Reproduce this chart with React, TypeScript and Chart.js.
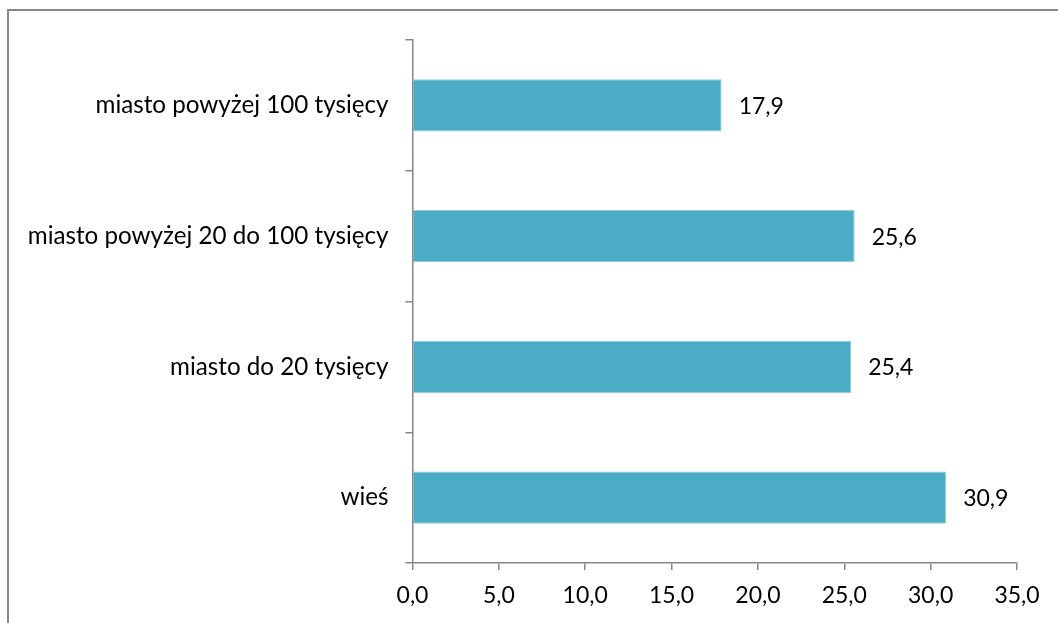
import React, { useEffect, useRef } from "react";
import { Chart, registerables } from "chart.js";

Chart.register(...registerables);

const categories: string[] = [
  "miasto powyżej 100 tysięcy",
  "miasto powyżej 20 do 100 tysięcy",
  "miasto do 20 tysięcy",
  "wieś",
];
const values: number[] = [17.9, 25.6, 25.4, 30.9];
const axisMin = 0;
const axisMax = 35;
const axisStep = 5;

const BAR_COLOR = "#4BACC6";
const AXIS_COLOR = "#868686";
const FONT = "Lato";

const fmt = (v: number) => v.toFixed(1).replace(".", ",");

const dataLabelPlugin = {
  id: "dataLabels",
  afterDatasetsDraw(chart: any) {
    const ctx = chart.ctx;
    const meta = chart.getDatasetMeta(0);
    ctx.save();
    ctx.font = `23px ${FONT}`;
    ctx.fillStyle = "#000000";
    ctx.textAlign = "left";
    ctx.textBaseline = "middle";
    meta.data.forEach((bar: any, i: number) => {
      const v = chart.data.datasets[0].data[i] as number;
      ctx.fillText(fmt(v), bar.x + 17, bar.y + 1);
    });
    ctx.restore();
  },
};

export default function App() {
  const canvasRef = useRef<HTMLCanvasElement | null>(null);

  useEffect(() => {
    let chart: Chart | null = null;
    let cancelled = false;
    const make = () => {
      if (cancelled || !canvasRef.current) return;
      chart = new Chart(canvasRef.current, {
        type: "bar",
        data: {
          labels: categories,
          datasets: [
            {
              data: values,
              backgroundColor: BAR_COLOR,
              borderColor: "#8ccfdf",
              borderWidth: 1,
              categoryPercentage: 0.4,
              barPercentage: 1,
            },
          ],
        },
        options: {
          indexAxis: "y",
          animation: false,
          responsive: false,
          maintainAspectRatio: false,
          layout: { padding: { top: 40, right: 41, left: 0, bottom: 0 } },
          plugins: {
            legend: { display: false },
            tooltip: { enabled: false },
            title: { display: false },
          },
          scales: {
            x: {
              type: "linear",
              min: axisMin,
              max: axisMax,
              ticks: {
                stepSize: axisStep,
                color: "#000000",
                font: { family: FONT, size: 23 },
                padding: 12,
                callback: (v: any) => fmt(Number(v)),
              },
              grid: {
                drawOnChartArea: false,
                drawTicks: true,
                tickLength: 7,
                color: AXIS_COLOR,
                lineWidth: 1.5,
              },
              border: { display: true, color: AXIS_COLOR, width: 1.5 },
              afterFit: (scale: any) => {
                scale.height = 60;
              },
            },
            y: {
              type: "category",
              offset: true,
              ticks: {
                color: "#000000",
                font: { family: FONT, size: 24.2 },
                padding: 17,
              },
              grid: {
                offset: true,
                drawOnChartArea: false,
                drawTicks: true,
                tickLength: 7,
                color: AXIS_COLOR,
                lineWidth: 1.5,
              },
              border: { display: true, color: AXIS_COLOR, width: 1.5 },
              afterFit: (scale: any) => {
                scale.width = 412.5;
              },
            },
          },
        },
        plugins: [dataLabelPlugin],
      });
    };
    const fontsApi: any = (document as any).fonts;
    if (fontsApi && fontsApi.load) {
      fontsApi.load(`23px ${FONT}`).then(make, make);
    } else {
      make();
    }
    return () => {
      cancelled = true;
      if (chart) chart.destroy();
    };
  }, []);

  return (
    <div
      style={{
        position: "fixed",
        left: 0,
        top: 0,
        width: 1058,
        height: 623,
        overflow: "hidden",
        background: "#ffffff",
      }}
    >
      <div
        style={{
          position: "absolute",
          left: 7,
          top: 9,
          width: 1200,
          height: 800,
          border: `2px solid ${AXIS_COLOR}`,
          boxSizing: "border-box",
        }}
      />
      <canvas
        ref={canvasRef}
        width={1058}
        height={623}
        style={{ position: "absolute", left: 0, top: 0, width: 1058, height: 623 }}
      />
    </div>
  );
}
